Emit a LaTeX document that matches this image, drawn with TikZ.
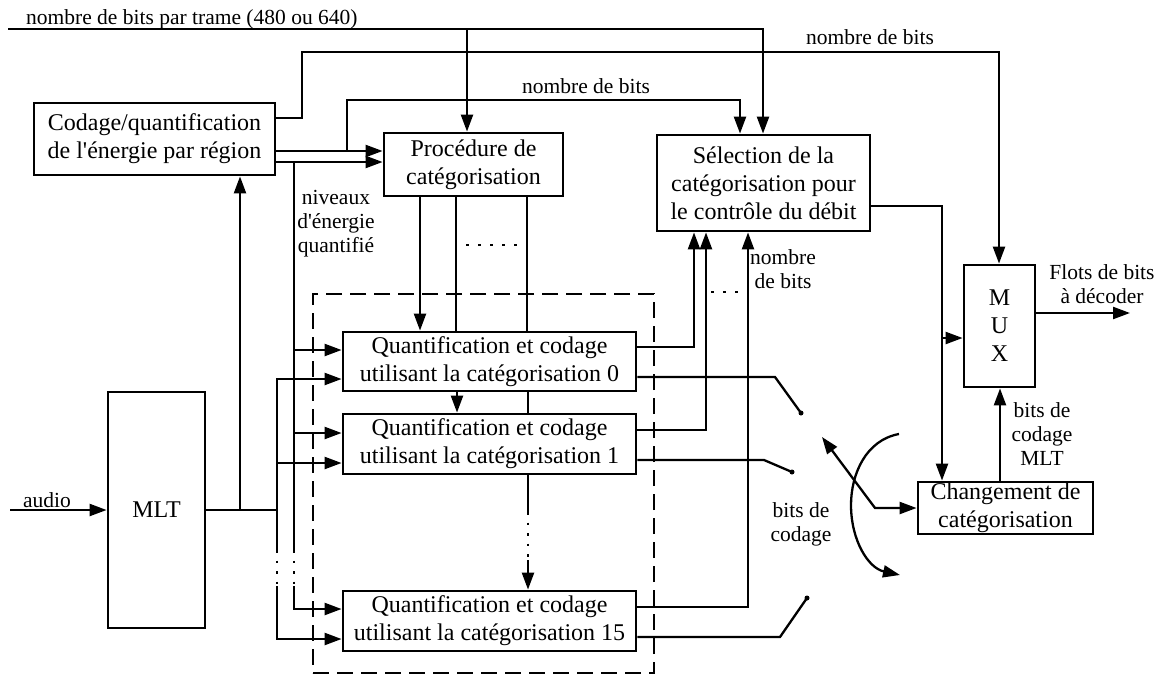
\documentclass[tikz,border=0pt]{standalone}
\usepackage{fontspec}
\setmainfont{Liberation Serif}
\usetikzlibrary{arrows.meta}
\begin{document}
\begin{tikzpicture}[x=1pt,y=-1pt,
  line width=2.3pt,
  box/.style={draw,line width=2.8pt,inner sep=0pt,align=center,
    font=\fontsize{24}{28}\selectfont},
  lbl/.style={align=center,inner sep=0pt,font=\fontsize{21.5}{24}\selectfont},
  arr/.style={-{Triangle[length=17pt,width=12pt]}},
  dblarr/.style={{Triangle[length=17pt,width=12pt]}-{Triangle[length=17pt,width=12pt]}},
  dotgap/.style={dash pattern=on 2.5pt off 8pt},
  frame/.style={draw,dash pattern=on 16pt off 8pt,line width=2.3pt,inner sep=0pt}
]
\useasboundingbox (0,0) rectangle (1173,680);

% blocks
\node[box,minimum width=241pt,minimum height=72pt] (cod) at (154.5,139)
  {Codage/quantification\\de l\textquotesingle énergie par région};
\node[box,minimum width=179pt,minimum height=63pt] (proc) at (473.5,164.5)
  {Procédure de\\catégorisation};
\node[box,minimum width=213pt,minimum height=96pt] (sel) at (763.5,183)
  {Sélection de la\\catégorisation pour\\le contrôle du débit};
\node[box,minimum width=71pt,minimum height=122pt] (mux) at (999.5,326)
  {M\\U\\X};
\node[box,minimum width=175pt,minimum height=52pt] (chg) at (1005.5,508)
  {Changement de\\catégorisation};
\node[box,minimum width=97pt,minimum height=236pt] (mlt) at (156.5,510) {MLT};
\node[frame,minimum width=341pt,minimum height=379pt] (grp) at (483.5,483.5) {};
\node[box,minimum width=293pt,minimum height=59pt] (q0) at (489.5,361.5)
  {Quantification et codage\\utilisant la catégorisation 0};
\node[box,minimum width=293pt,minimum height=60pt] (q1) at (489.5,444)
  {Quantification et codage\\utilisant la catégorisation 1};
\node[box,minimum width=293pt,minimum height=60pt] (q15) at (489.5,621)
  {Quantification et codage\\utilisant la catégorisation 15};

% free ends and junctions
\coordinate (trame) at (8,29);
\coordinate (jt) at (467,29);
\coordinate (jb) at (347,151);
\coordinate (jn) at (294,162);
\coordinate (jm) at (277,510);
\coordinate (jc) at (240,510);
\coordinate (js) at (942,338);
\coordinate (audio) at (10,510);
\coordinate (flux) at (1130,313);
\coordinate (c0) at (801,413);
\coordinate (c1) at (792,472);
\coordinate (c2) at (807,598);
\coordinate (sw) at (822,437);
\coordinate (pv) at (875,508);

% frame size line
\draw[arr] (trame) -| ([xshift=-0.5pt]sel.north);
\draw[arr] (jt) -- (proc.north -| jt);
\node[lbl,anchor=base west] at (25,24) {nombre de bits par trame (480 ou 640)};

% energy coder outputs
\draw[arr] (cod.east |- 0,118) -| (302,52) -| ([xshift=-0.5pt]mux.north);
\node[lbl,anchor=base] at (870,44) {nombre de bits};
\draw[arr] (cod.east |- 0,151) -- (proc.west |- 0,151);
\draw[arr] (cod.east |- 0,162) -- (proc.west |- 0,162);
\draw[arr] (jb) |- (740,100) -- (sel.north -| 740,0);
\node[lbl,anchor=base] at (586,93) {nombre de bits};

% quantized energy levels
\draw (jn) -- (294,550);
\draw[dotgap] (294,550) -- (294,586);
\draw[arr] (294,586) |- (q15.west |- 0,609);
\draw[arr] (294,350) -- (q0.west |- 0,350);
\draw[arr] (294,433) -- (q1.west |- 0,433);
\node[lbl] at (336,224) {niveaux\\d\textquotesingle énergie\\quantifié};

% MLT
\draw[arr] (audio) -- (mlt.west);
\node[lbl,anchor=base] at (47,507) {audio};
\draw (mlt.east) -- (jm);
\draw[arr] (jc) -- (cod.south -| jc);
\draw[arr] (277,550) -- (277,379) -- (q0.west |- 0,379);
\draw[arr] (277,463) -- (q1.west |- 0,463);
\draw[dotgap] (277,550) -- (277,586);
\draw[arr] (277,586) |- (q15.west |- 0,639);

% categorisation outputs
\draw[arr] (proc.south -| 420,0) -- (q0.north -| 420,0);
\draw (proc.south -| 456,0) -- (q0.north -| 456,0);
\draw (proc.south -| 527,0) -- (q0.north -| 527,0);
\draw[dash pattern=on 2.5pt off 9.5pt] (466,245) -- (518,245);
\draw[arr] (q0.south -| 457,0) -- (q1.north -| 457,0);
\draw (q0.south -| 528,0) -- (q1.north -| 528,0);
\draw (q1.south -| 528,0) -- (528,512);
\draw[dotgap] (528,512) -- (528,560);
\draw[arr] (528,560) -- (q15.north -| 528,0);

% bit counts to the rate control
\draw[arr] (q0.east |- 0,347) -| (sel.south -| 694,0);
\draw[arr] (q1.east |- 0,430) -| (sel.south -| 706,0);
\draw[arr] (q15.east |- 0,607) -| (sel.south -| 748,0);
\draw[dash pattern=on 2.5pt off 9.5pt] (711,292) -- (740,292);
\node[lbl] at (783,269) {nombre\\de bits};

% coded bits and selector switch
\draw (q0.east |- 0,377) -- (775,377) -- (c0);
\draw (q1.east |- 0,460) -- (764,460) -- (c1);
\draw (q15.east |- 0,637) -- (780,637) -- (c2);
\fill (c0) circle (2.5pt);
\fill (c1) circle (2.5pt);
\fill (c2) circle (2.5pt);
\node[lbl] at (801,524) {bits de\\codage};
\draw[dblarr] (sw) -- (pv) -- (chg.west);
\draw[arr] (899,434) .. controls (866,440) and (851,474) .. (851,505)
  .. controls (851,540) and (868,568) .. (900,575);

% rate control and multiplexer
\draw[arr] (sel.east |- 0,206) -| (chg.north -| 942,0);
\draw[arr] (js) -- (mux.west |- js);
\draw[arr] (chg.north -| 1000,0) -- (mux.south -| 1000,0);
\node[lbl] at (1042,434) {bits de\\codage\\MLT};
\draw[arr] (mux.east |- flux) -- (flux);
\node[lbl] at (1102,284) {Flots de bits\\à décoder};
\end{tikzpicture}
\end{document}
